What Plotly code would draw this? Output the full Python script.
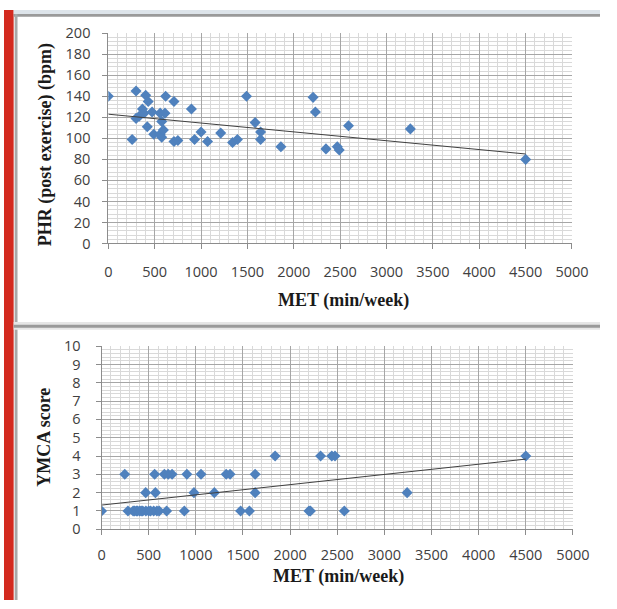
import numpy as np
import plotly.graph_objects as go

# ---------------- data ----------------
met_phr = [0, 299, 257, 403, 430, 368, 299, 333, 385, 420, 490, 472, 559, 611, 576, 559,
           576, 594, 618, 708, 708, 750, 896, 930, 1000, 1070, 1212, 1340, 1392, 1490,
           1583, 1642, 1642, 1861, 2208, 2233, 2347, 2469, 2490, 2590, 3257, 4500]
phr = [140, 145, 99, 141, 135, 128, 119, 121, 124, 111, 104, 125, 124, 124, 116, 104,
       101, 108, 140, 135, 97, 98, 128, 99, 106, 97, 105, 96, 99, 140,
       115, 106, 99, 92, 139, 125, 90, 92, 89, 112, 109, 80]

met_ymca = [0, 280, 335, 370, 403, 437, 470, 553, 587, 611, 690, 878, 1475, 1568, 2200, 2215, 2575,
            350, 380, 420, 500, 520,
            468, 571, 980, 1196, 1629, 3241,
            246, 563, 666, 707, 748, 905, 1055, 1322, 1363, 1629,
            1841, 2323, 2442, 2476, 4500]
ymca = [1, 1, 1, 1, 1, 1, 1, 1, 1, 1, 1, 1, 1, 1, 1, 1, 1,
        1, 1, 1, 1, 1,
        2, 2, 2, 2, 2, 2,
        3, 3, 3, 3, 3, 3, 3, 3, 3, 3,
        4, 4, 4, 4, 4]

x_ticks = list(range(0, 5001, 500))
phr_ticks = list(range(0, 201, 20))
ymca_ticks = list(range(0, 11))

x_title = "MET (min/week)"
phr_title = "PHR (post exercise) (bpm)"
ymca_title = "YMCA score"

# ---------------- figure ----------------
W, H = 617, 609
def px(x):
    return x / W
def py(y):
    return 1 - y / H

marker_color = "#4F81BD"
fig = go.Figure()

def trend(xs, ys):
    xs = np.asarray(xs, float); ys = np.asarray(ys, float)
    m, b = np.polyfit(xs, ys, 1)
    xr = np.array([xs.min(), xs.max()])
    return xr, m * xr + b

fig.add_trace(go.Scatter(x=met_phr, y=phr, mode="markers", xaxis="x", yaxis="y",
                         marker=dict(symbol="diamond", size=8.5, color=marker_color),
                         showlegend=False, hoverinfo="skip"))
tx, ty = trend(met_phr, phr)
fig.add_trace(go.Scatter(x=tx, y=ty, mode="lines", xaxis="x", yaxis="y",
                         line=dict(color="#404040", width=1), showlegend=False, hoverinfo="skip"))

fig.add_trace(go.Scatter(x=met_ymca, y=ymca, mode="markers", xaxis="x2", yaxis="y2",
                         marker=dict(symbol="diamond", size=8.5, color=marker_color),
                         showlegend=False, hoverinfo="skip"))
tx2, ty2 = trend(met_ymca, ymca)
fig.add_trace(go.Scatter(x=tx2, y=ty2, mode="lines", xaxis="x2", yaxis="y2",
                         line=dict(color="#404040", width=1), showlegend=False, hoverinfo="skip"))

tick_font = dict(family="Open Sans, Liberation Sans, sans-serif", size=14.5, color="#404040")
grid_major = "#a6a6a6"
grid_minor = "#d9d9d9"

def xax(domain, anchor, standoff):
    return dict(domain=domain, anchor=anchor, range=[0, 5000], tickvals=x_ticks,
                showgrid=True, gridcolor=grid_major, gridwidth=1,
                minor=dict(dtick=100, showgrid=True, gridcolor=grid_minor, gridwidth=1),
                showline=True, linecolor="#8c8c8c", linewidth=1,
                ticks="outside", ticklen=5, tickcolor="#8c8c8c",
                tickfont=tick_font, ticklabelstandoff=standoff, zeroline=False, fixedrange=True)

def yax(domain, anchor, rng, vals, mdt, standoff):
    return dict(domain=domain, anchor=anchor, range=rng, tickvals=vals,
                showgrid=True, gridcolor=grid_major, gridwidth=1,
                minor=dict(dtick=mdt, showgrid=True, gridcolor=grid_minor, gridwidth=1),
                showline=True, linecolor="#8c8c8c", linewidth=1, mirror=False,
                ticks="outside", ticklen=5, tickcolor="#8c8c8c",
                tickfont=tick_font, ticklabelstandoff=standoff, zeroline=False, fixedrange=True)

fig.update_layout(
    width=W, height=H, margin=dict(l=0, r=0, t=0, b=0),
    paper_bgcolor="white", plot_bgcolor="white",
    xaxis=xax([px(108), px(588)], "y", 10),
    yaxis=yax([py(241), py(24)], "x", [0, 200], phr_ticks, 4, 9),
    xaxis2=xax([px(101), px(589)], "y2", 7),
    yaxis2=yax([py(536), py(347)], "x2", [0, 10], ymca_ticks, 0.2, 12),
)

title_font = dict(family="Liberation Serif, Times New Roman, serif", size=18, color="#1a1a1a")
fig.add_annotation(text="<b>%s</b>" % x_title, x=px(351), y=py(300), xref="paper", yref="paper",
                   showarrow=False, font=title_font, xanchor="center", yanchor="middle")
fig.add_annotation(text="<b>%s</b>" % x_title, x=px(346), y=py(585), xref="paper", yref="paper",
                   showarrow=False, font=title_font, xanchor="center", yanchor="middle")
fig.add_annotation(text="<b>%s</b>" % phr_title, x=px(43), y=py(139), xref="paper", yref="paper",
                   showarrow=False, font=title_font, textangle=-90, xanchor="center", yanchor="middle")
fig.add_annotation(text="<b>%s</b>" % ymca_title, x=px(42), y=py(441), xref="paper", yref="paper",
                   showarrow=False, font=title_font, textangle=-90, xanchor="center", yanchor="middle")

# page decoration: red strip, panel borders
shapes = [
    dict(type="rect", xref="paper", yref="paper", x0=0, x1=px(10), y0=0, y1=1,
         fillcolor="#d32a1f", line=dict(width=0), layer="above"),
    dict(type="rect", xref="paper", yref="paper", x0=px(10), x1=1, y0=py(4), y1=1,
         fillcolor="#dde4ea", line=dict(width=0), layer="above"),
    dict(type="rect", xref="paper", yref="paper", x0=px(10), x1=1, y0=py(7), y1=py(4),
         fillcolor="#9a9a9a", line=dict(width=0), layer="above"),
    dict(type="rect", xref="paper", yref="paper", x0=px(11), x1=px(14), y0=0, y1=py(4),
         fillcolor="#a8a8a8", line=dict(width=0), layer="above"),
    dict(type="rect", xref="paper", yref="paper", x0=px(10), x1=1, y0=py(330), y1=py(322),
         fillcolor="#e6e6e6", line=dict(width=0), layer="above"),
    dict(type="rect", xref="paper", yref="paper", x0=px(10), x1=1, y0=py(328), y1=py(325),
         fillcolor="#9a9a9a", line=dict(width=0), layer="above"),
]
fig.update_layout(shapes=shapes)

fig.write_html("out.html", config={"displayModeBar": False},
               post_script="document.body.style.margin='0';document.body.style.overflow='hidden';")
